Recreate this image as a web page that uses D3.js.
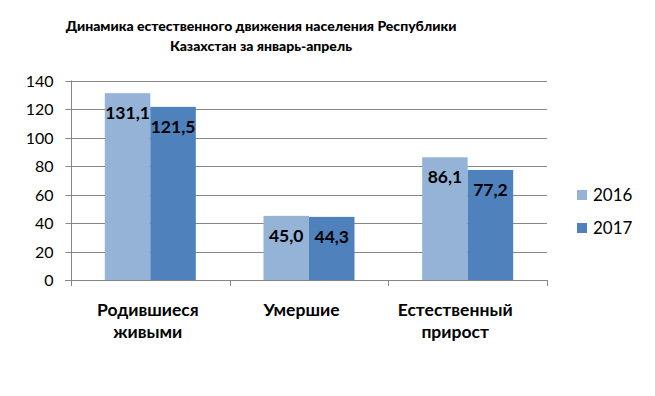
<!DOCTYPE html>
<html>
<head>
<meta charset="utf-8">
<script src="https://cdn.jsdelivr.net/npm/d3@7"></script>
<style>
    body { margin: 0; background: #fff; }
    svg { font-family: Lato, Calibri, sans-serif; }
</style>
</head>
<body>
<div id="chart"></div>
<script>
const categories = [['Родившиеся', 'живыми'], ['Умершие'], ['Естественный', 'прирост']];
const seriesNames = ['2016', '2017'];
const values2016 = [131.1, 45.0, 86.1];
const values2017 = [121.5, 44.3, 77.2];
const yTicks = [0, 20, 40, 60, 80, 100, 120, 140];
const titleLines = ['Динамика естественного движения населения Республики', 'Казахстан за январь-апрель'];

const svgWidth = 655;
const svgHeight = 396;
const colors = ['#95b3d7', '#4f81bd'];

const plotLeft = 71;
const plotRight = 547;
const plotTop = 80.5;
const plotBottom = 280;

const svg = d3.select('#chart')
    .append('svg')
    .attr('width', svgWidth)
    .attr('height', svgHeight);

const x = d3.scaleBand()
    .domain(d3.range(categories.length))
    .range([plotLeft, plotRight])
    .paddingInner(0.4265)
    .paddingOuter(0.213);

// category labels sit a bit left of the bar groups, like in the original
const xLabel = d3.scalePoint()
    .domain(d3.range(categories.length))
    .range([plotLeft, 532])
    .padding(0.5);

const xSeries = d3.scaleBand()
    .domain(seriesNames)
    .range([0, x.bandwidth()]);

const y = d3.scaleLinear()
    .domain([0, 140])
    .range([plotBottom, plotTop]);

// gridlines
svg.append('g')
    .selectAll('line')
    .data(yTicks.slice(1))
    .join('line')
    .attr('x1', plotLeft)
    .attr('x2', plotRight)
    .attr('y1', d => Math.round(y(d)) + 0.5)
    .attr('y2', d => Math.round(y(d)) + 0.5)
    .attr('stroke', '#868686')
    .attr('stroke-width', 1);

// y axis
const yAxis = svg.append('g')
    .attr('transform', `translate(${plotLeft + 0.5}, 0)`)
    .call(d3.axisLeft(y).tickValues(yTicks).tickSize(6).tickPadding(12).tickFormat(d3.format('d')));
yAxis.selectAll('line, path').attr('stroke', '#868686');
yAxis.select('.domain').attr('d', `M0,${plotTop}V${plotBottom}`);
yAxis.selectAll('text')
    .attr('font-size', 16)
    .attr('fill', '#000')
    .attr('font-family', 'Lato, sans-serif');
yAxis.selectAll('.tick')
    .attr('transform', d => `translate(0, ${Math.round(y(d)) + 0.5})`);

// bars
const data = categories.map((c, i) => [values2016[i], values2017[i]]);

const groups = svg.append('g')
    .selectAll('g')
    .data(data)
    .join('g')
    .attr('transform', (d, i) => `translate(${x(i)}, 0)`);

groups.selectAll('rect')
    .data(d => d.map((v, j) => ({ v, s: seriesNames[j], j })))
    .join('rect')
    .attr('x', d => xSeries(d.s))
    .attr('width', xSeries.bandwidth())
    .attr('y', d => y(d.v))
    .attr('height', d => plotBottom - y(d.v))
    .attr('fill', d => colors[d.j]);

groups.selectAll('text')
    .data(d => d.map((v, j) => ({ v, s: seriesNames[j] })))
    .join('text')
    .attr('x', d => xSeries(d.s) + xSeries.bandwidth() / 2)
    .attr('y', d => y(d.v) + 26)
    .attr('text-anchor', 'middle')
    .attr('font-size', 17.5)
    .attr('font-weight', 'bold')
    .attr('fill', '#000')
    .text(d => d3.format('.1f')(d.v).replace('.', ','));

// x axis
svg.append('line')
    .attr('x1', plotLeft - 6)
    .attr('x2', plotRight + 0.5)
    .attr('y1', plotBottom + 0.5)
    .attr('y2', plotBottom + 0.5)
    .attr('stroke', '#868686');

const boundaries = d3.range(categories.length + 1).map(i => plotLeft + i * x.step());
svg.append('g')
    .selectAll('line')
    .data(boundaries)
    .join('line')
    .attr('x1', d => Math.round(d) + 0.5)
    .attr('x2', d => Math.round(d) + 0.5)
    .attr('y1', plotBottom)
    .attr('y2', plotBottom + 6)
    .attr('stroke', '#868686');

const catLabels = svg.append('g')
    .selectAll('text')
    .data(categories)
    .join('text')
    .attr('x', (d, i) => xLabel(i))
    .attr('y', 316)
    .attr('text-anchor', 'middle')
    .attr('font-size', 17.5)
    .attr('font-weight', 'bold')
    .attr('fill', '#000');

catLabels.selectAll('tspan')
    .data(d => d)
    .join('tspan')
    .attr('x', function () { return d3.select(this.parentNode).attr('x'); })
    .attr('dy', (d, i) => i === 0 ? 0 : 22)
    .text(d => d);

// title
svg.append('g')
    .selectAll('text')
    .data(titleLines)
    .join('text')
    .attr('x', 261)
    .attr('y', (d, i) => 31 + i * 20)
    .attr('text-anchor', 'middle')
    .attr('font-size', 14)
    .attr('font-weight', 900)
    .attr('fill', '#000')
    .text(d => d);

// legend
const legend = svg.append('g')
    .selectAll('g')
    .data(seriesNames)
    .join('g')
    .attr('transform', (d, i) => `translate(577, ${190 + i * 33})`);

legend.append('rect')
    .attr('width', 10)
    .attr('height', 10)
    .attr('fill', (d, i) => colors[i]);

legend.append('text')
    .attr('x', 16)
    .attr('y', 11)
    .attr('font-size', 17)
    .attr('fill', '#000')
    .text(d => d);
</script>
</body>
</html>
